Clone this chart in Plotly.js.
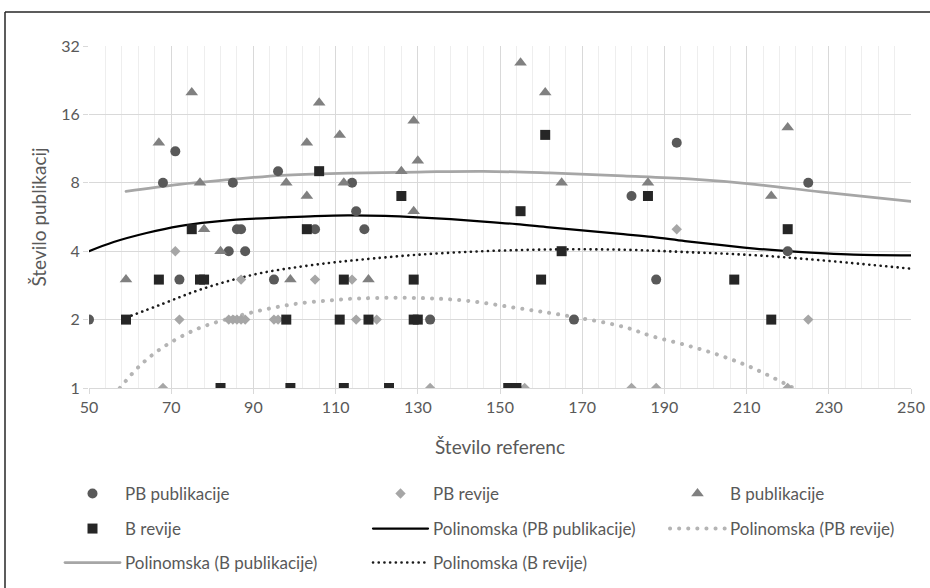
<!DOCTYPE html>
<html>
<head>
<meta charset="utf-8">
<script src="https://cdn.plot.ly/plotly-3.0.1.min.js"></script>
<style>
html,body{margin:0;padding:0;background:#fff;}
#chart{width:930px;height:588px;}
.js-line{stroke-linecap:round;}
</style>
</head>
<body>
<div id="chart"></div>
<script>
// ---- data ----
const pbPubX = [50, 68, 71, 72, 84, 85, 86, 87, 88, 95, 96, 105, 114, 115, 117, 133, 168, 182, 188, 193, 220, 225];
const pbPubY = [2, 8, 11, 3, 4, 8, 5, 5, 4, 3, 9, 5, 8, 6, 5, 2, 2, 7, 3, 12, 4, 8];

const pbRevX = [68, 71, 72, 84, 85, 86, 87, 88, 87, 95, 96, 105, 114, 115, 120, 133, 156, 182, 188, 193, 220, 225];
const pbRevY = [1, 4, 2, 2, 2, 2, 2, 2, 3, 2, 2, 3, 3, 2, 2, 1, 1, 1, 1, 5, 1, 2];

const bPubX = [59, 67, 75, 77, 78, 82, 98, 99, 103, 103, 106, 111, 112, 118, 126, 129, 129, 130, 155, 161, 165, 186, 216, 220];
const bPubY = [3, 12, 20, 8, 5, 4, 8, 3, 12, 7, 18, 13, 8, 3, 9, 15, 6, 10, 27, 20, 8, 8, 7, 14];

const bRevX = [59, 67, 75, 77, 78, 82, 98, 99, 103, 106, 111, 112, 112, 118, 123, 126, 129, 129, 130, 152, 154, 155, 160, 161, 165, 186, 207, 216, 220];
const bRevY = [2, 3, 5, 3, 3, 1, 2, 1, 5, 9, 2, 3, 1, 2, 1, 7, 3, 2, 2, 1, 1, 6, 3, 13, 4, 7, 3, 2, 5];

// trend lines, values
const trPbPubX = [50, 56, 64, 72, 80, 88, 97, 105, 113, 122, 130, 138, 146, 154, 162, 170, 180, 187, 195, 204, 212, 220, 228, 236, 250];
const trPbPubY = [4.0, 4.39, 4.81, 5.16, 5.38, 5.53, 5.63, 5.71, 5.75, 5.72, 5.64, 5.53, 5.40, 5.26, 5.09, 4.94, 4.75, 4.62, 4.43, 4.25, 4.11, 4.0, 3.92, 3.86, 3.83];

const trPbRevX = [57.5, 62.5, 68, 76, 84, 92.5, 100.6, 108.7, 116, 130, 142, 154, 165.5, 180, 187, 195.5, 203.6, 211.7, 221.4];
const trPbRevY = [1.0, 1.26, 1.51, 1.81, 2.02, 2.21, 2.35, 2.43, 2.48, 2.49, 2.42, 2.25, 2.09, 1.86, 1.69, 1.54, 1.39, 1.22, 1.0];

const trBPubX = [59, 72, 84, 97, 113, 130, 146, 162, 180, 196, 212, 228, 250];
const trBPubY = [7.34, 7.88, 8.26, 8.63, 8.82, 8.92, 8.99, 8.84, 8.58, 8.32, 7.88, 7.29, 6.63];

const trBRevX = [59, 68, 76, 84, 92, 101, 109, 116, 130, 146, 162, 180, 196, 212, 228, 250];
const trBRevY = [2.04, 2.35, 2.67, 2.96, 3.21, 3.41, 3.56, 3.67, 3.86, 4.0, 4.07, 4.06, 3.96, 3.84, 3.65, 3.35];

const yTicks = [1, 2, 4, 8, 16, 32];
const yTickText = ['1', '2', '4', '8', '16', '32'];

const names = ['PB publikacije', 'PB revije', 'B publikacije', 'B revije',
  'Polinomska (PB publikacije)', 'Polinomska (PB revije)', 'Polinomska (B publikacije)', 'Polinomska (B revije)'];

// ---- styles ----
const FONT = 'Lato, "Open Sans", sans-serif';
const TXT = '#595959';

const traces = [
  {x: trBPubX, y: trBPubY, mode: 'lines', name: names[6], legend: 'legend7', line: {color: '#A6A6A6', width: 2.75, shape: 'spline'}},
  {x: trPbPubX, y: trPbPubY, mode: 'lines', name: names[4], legend: 'legend5', line: {color: '#000000', width: 2.25, shape: 'spline'}},
  {x: trBRevX, y: trBRevY, mode: 'lines', name: names[7], legend: 'legend8', line: {color: '#1a1a1a', width: 2.6, dash: '0.1px,5.6px', shape: 'spline'}},
  {x: trPbRevX, y: trPbRevY, mode: 'lines', name: names[5], legend: 'legend6', line: {color: '#B4B4B4', width: 4, dash: '0.1px,9px', shape: 'spline'}},
  {x: pbPubX, y: pbPubY, mode: 'markers', name: names[0], legend: 'legend', marker: {symbol: 'circle', size: 10, color: '#595959'}},
  {x: pbRevX, y: pbRevY, mode: 'markers', name: names[1], legend: 'legend2', marker: {symbol: 'diamond', size: 8, color: '#A6A6A6'}},
  {x: bPubX, y: bPubY, mode: 'markers', name: names[2], legend: 'legend3', marker: {symbol: 'triangle-up', size: 11, color: '#808080'}},
  {x: bRevX, y: bRevY, mode: 'markers', name: names[3], legend: 'legend4', marker: {symbol: 'square', size: 10, color: '#262626'}}
];

function leg(px, py) {
  return {x: px / 930, y: 1 - py / 588, xref: 'container', yref: 'container', xanchor: 'left', yanchor: 'middle',
    orientation: 'h', bgcolor: 'rgba(0,0,0,0)', borderwidth: 0, itemwidth: 55,
    font: {family: FONT, size: 17, color: TXT}};
}

const layout = {
  width: 930, height: 588,
  margin: {l: 89, r: 19, t: 46, b: 200, pad: 0},
  paper_bgcolor: '#ffffff', plot_bgcolor: '#ffffff',
  font: {family: FONT, size: 16, color: TXT},
  showlegend: true,
  xaxis: {
    range: [50, 250], tick0: 50, dtick: 20, tickmode: 'linear',
    showgrid: true, gridcolor: '#D9D9D9', gridwidth: 1,
    minor: {tick0: 50, dtick: 4, showgrid: true, gridcolor: '#EEEEEE', gridwidth: 1},
    ticks: 'outside', ticklen: 5, tickcolor: '#D9D9D9',
    showline: true, linecolor: '#D9D9D9', zeroline: false,
    tickfont: {family: FONT, size: 16, color: TXT},
    title: {text: 'Število referenc', font: {family: FONT, size: 19, color: TXT}, standoff: 25}
  },
  yaxis: {
    type: 'log', range: [0, Math.log10(32)],
    tickmode: 'array', tickvals: yTicks, ticktext: yTickText,
    showgrid: true, gridcolor: '#D9D9D9', gridwidth: 1,
    ticks: 'outside', ticklen: 5, tickcolor: '#D9D9D9',
    showline: false, zeroline: false,
    tickfont: {family: FONT, size: 16, color: TXT},
    title: {text: 'Število publikacij', font: {family: FONT, size: 19, color: TXT}, standoff: 9}
  },
  legend: leg(60, 494),
  legend2: leg(368, 494),
  legend3: leg(665, 494),
  legend4: leg(60, 529),
  legend5: leg(368, 529),
  legend6: leg(665, 529),
  legend7: leg(60, 563),
  legend8: leg(368, 563),
  shapes: [
    {type: 'line', xref: 'paper', yref: 'paper', x0: (5 - 89) / 822, x1: (5 - 89) / 822, y0: (388 - 588) / 342, y1: (388 - 12) / 342, line: {color: '#262626', width: 1.5}},
    {type: 'line', xref: 'paper', yref: 'paper', x0: (5 - 89) / 822, x1: (930 - 89) / 822, y0: (388 - 12) / 342, y1: (388 - 12) / 342, line: {color: '#262626', width: 1.5}}
  ]
};

Plotly.newPlot('chart', traces, layout, {displayModeBar: false, staticPlot: true});
</script>
</body>
</html>
